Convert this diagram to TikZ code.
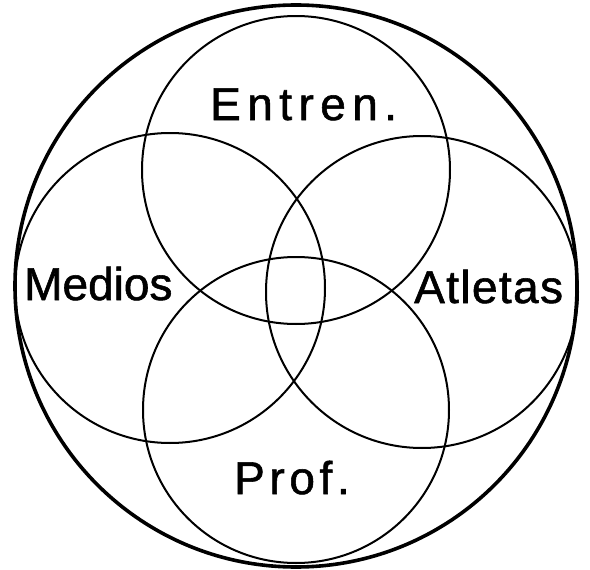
\documentclass[tikz,border=0pt]{standalone}
\usepackage{fontspec}
\setmainfont[FakeBold=1.2]{Liberation Sans}
\begin{document}
\begin{tikzpicture}[x=1pt,y=-1pt,
  outer/.style={draw=black,line width=3.6pt},
  inner/.style={draw=black,line width=2pt},
  lbl/.style={anchor=base west,inner sep=0pt,font=\fontsize{46}{50}\selectfont}]
\useasboundingbox (0,0) rectangle (590,570);
\path[outer] (296,286) circle[radius=281];
\path[inner] (296,170) circle[radius=154];
\path[inner] (170,288) circle[radius=155];
\path[inner] (422,292) circle[radius=156];
\path[inner] (296,410) circle[radius=153];
\node[lbl] (entren) at (210,120) {\addfontfeature{LetterSpace=14}Entren.};
\node[lbl] (medios) at (24,300) {Medios};
\node[lbl] (atletas) at (414,303) {\addfontfeature{LetterSpace=3}Atletas};
\node[lbl] (prof) at (234,494) {\addfontfeature{LetterSpace=10}Prof.};
\end{tikzpicture}
\end{document}
